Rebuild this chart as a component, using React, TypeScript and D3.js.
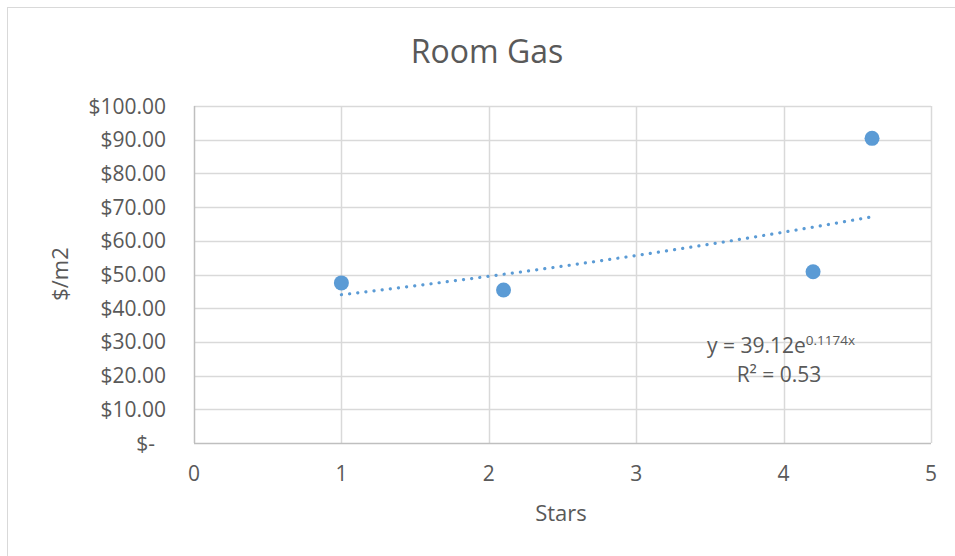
import React, { useEffect, useRef } from 'react';
import * as d3 from 'd3';

// data
const stars = [1, 2.1, 4.2, 4.6];
const costPerM2 = [47.5, 45.4, 50.8, 90.4];

const xTicks = [0, 1, 2, 3, 4, 5];
const yTicks = [0, 10, 20, 30, 40, 50, 60, 70, 80, 90, 100];

// exponential trendline as printed on the chart
const trendA = 39.12;
const trendB = 0.1174;
const rSquared = 0.53;

const W = 955;
const H = 556;
const FONT = "'Open Sans', 'Noto Sans', sans-serif";
const TEXT = '#595959';
const BLUE = '#5b9bd5';

const fmtMoney = (v: number) => (v === 0 ? '$-' : '$' + d3.format(',.2f')(v));

const App: React.FC = () => {
  const svgRef = useRef<SVGSVGElement>(null);

  useEffect(() => {
    if (!svgRef.current) return;
    const root = d3.select(svgRef.current);
    root.selectAll('*').remove();

    const margin = { top: 106, right: 24, bottom: 113, left: 194 };
    const innerW = W - margin.left - margin.right;
    const innerH = H - margin.top - margin.bottom;

    // chart area border (runs past the right/bottom of the picture)
    root.append('rect')
      .attr('x', 7.5).attr('y', 7.5)
      .attr('width', 1000).attr('height', 600)
      .attr('fill', '#fff')
      .attr('stroke', '#d9d9d9')
      .attr('stroke-width', 1);

    const x = d3.scaleLinear().domain([0, 5]).range([0, innerW]);
    const y = d3.scaleLinear().domain([0, 100]).range([innerH, 0]);

    const g = root.append('g')
      .attr('transform', `translate(${margin.left},${margin.top})`);

    // gridlines
    g.append('g')
      .selectAll('line')
      .data(yTicks.filter(d => d > 0))
      .enter()
      .append('line')
      .attr('x1', 0).attr('x2', innerW)
      .attr('y1', d => Math.round(y(d)) + 0.5)
      .attr('y2', d => Math.round(y(d)) + 0.5)
      .attr('stroke', '#d9d9d9')
      .attr('stroke-width', 1.5);

    g.append('g')
      .selectAll('line')
      .data(xTicks.filter(d => d > 0))
      .enter()
      .append('line')
      .attr('x1', d => Math.round(x(d)) + 0.5)
      .attr('x2', d => Math.round(x(d)) + 0.5)
      .attr('y1', 0).attr('y2', innerH)
      .attr('stroke', '#d9d9d9')
      .attr('stroke-width', 1.5);

    // axis lines
    g.append('line')
      .attr('x1', 0).attr('x2', innerW)
      .attr('y1', innerH + 0.5).attr('y2', innerH + 0.5)
      .attr('stroke', '#bfbfbf').attr('stroke-width', 1.5);
    g.append('line')
      .attr('x1', 0.5).attr('x2', 0.5)
      .attr('y1', 0).attr('y2', innerH)
      .attr('stroke', '#bfbfbf').attr('stroke-width', 1.5);

    // y tick labels
    g.append('g')
      .selectAll('text')
      .data(yTicks)
      .enter()
      .append('text')
      .attr('x', d => (d === 0 ? -39 : -28))
      .attr('y', d => y(d))
      .attr('dy', '0.36em')
      .attr('text-anchor', 'end')
      .attr('font-family', FONT)
      .attr('font-size', 21)
      .attr('fill', TEXT)
      .text(d => fmtMoney(d));

    // x tick labels
    g.append('g')
      .selectAll('text')
      .data(xTicks)
      .enter()
      .append('text')
      .attr('x', d => x(d))
      .attr('y', innerH + 38)
      .attr('text-anchor', 'middle')
      .attr('font-family', FONT)
      .attr('font-size', 21)
      .attr('fill', TEXT)
      .text(d => String(d));

    // trendline (round dots)
    const xs = d3.range(d3.min(stars)!, d3.max(stars)! + 0.001, 0.05);
    const line = d3.line<number>()
      .x(d => x(d))
      .y(d => y(trendA * Math.exp(trendB * d)));
    g.append('path')
      .datum(xs)
      .attr('d', line)
      .attr('fill', 'none')
      .attr('stroke', BLUE)
      .attr('stroke-width', 3.2)
      .attr('stroke-linecap', 'round')
      .attr('stroke-dasharray', '0.1 8.1');

    // markers
    g.append('g')
      .selectAll('circle')
      .data(stars.map((s, i) => ({ s, v: costPerM2[i] })))
      .enter()
      .append('circle')
      .attr('cx', d => x(d.s))
      .attr('cy', d => y(d.v))
      .attr('r', 7.5)
      .attr('fill', BLUE);

    // trendline label
    const eq = g.append('text')
      .attr('x', 781 - margin.left)
      .attr('y', 353 - margin.top)
      .attr('text-anchor', 'middle')
      .attr('font-family', FONT)
      .attr('font-size', 21)
      .attr('fill', TEXT);
    eq.append('tspan').text(`y = ${trendA}e`);
    eq.append('tspan')
      .attr('font-size', 13.5)
      .attr('dy', -8)
      .text(`${trendB}x`);

    g.append('text')
      .attr('x', 779 - margin.left)
      .attr('y', 382 - margin.top)
      .attr('text-anchor', 'middle')
      .attr('font-family', FONT)
      .attr('font-size', 21)
      .attr('fill', TEXT)
      .text(`R² = ${rSquared}`);

    // title
    root.append('text')
      .attr('x', 487)
      .attr('y', 63)
      .attr('text-anchor', 'middle')
      .attr('font-family', FONT)
      .attr('font-size', 32)
      .attr('fill', TEXT)
      .text('Room Gas');

    // axis titles
    root.append('text')
      .attr('x', 561)
      .attr('y', 521)
      .attr('text-anchor', 'middle')
      .attr('font-family', FONT)
      .attr('font-size', 22)
      .attr('fill', TEXT)
      .text('Stars');

    root.append('text')
      .attr('transform', 'translate(68,274) rotate(-90)')
      .attr('text-anchor', 'middle')
      .attr('font-family', FONT)
      .attr('font-size', 22)
      .attr('fill', TEXT)
      .text('$/m2');
  }, []);

  return (
    <svg
      ref={svgRef}
      width={W}
      height={H}
      style={{ position: 'absolute', left: 0, top: 0, display: 'block' }}
    />
  );
};

export default App;
